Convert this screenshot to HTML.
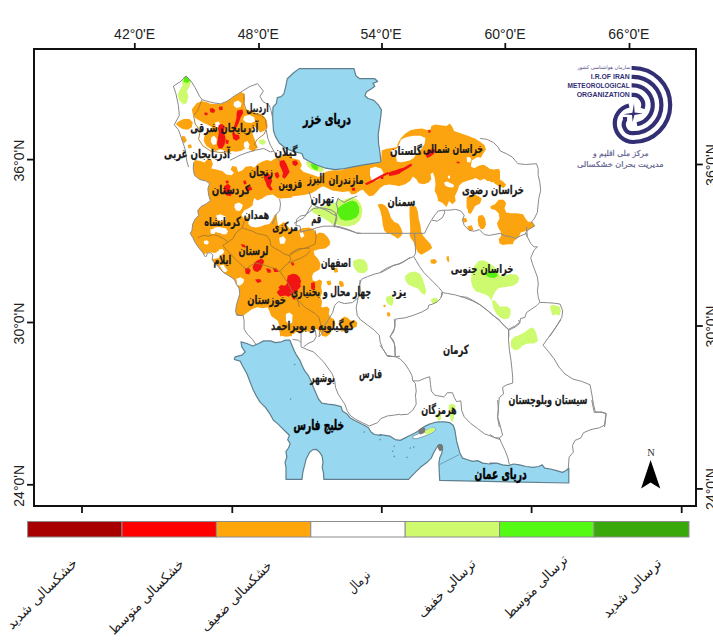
<!DOCTYPE html>
<html lang="fa">
<head>
<meta charset="utf-8">
<title>نقشه خشکسالی ایران</title>
<style>
html,body{margin:0;padding:0;background:#fff;}
body{width:713px;height:640px;overflow:hidden;position:relative;font-family:"Liberation Sans","DejaVu Sans",sans-serif;}
svg{position:absolute;left:0;top:0;display:block;}
.ax{font-family:"Liberation Sans",sans-serif;font-size:14px;fill:#222;}
.pv{font-family:"DejaVu Sans",sans-serif;font-weight:bold;fill:#1a1a1a;stroke:#1a1a1a;stroke-width:0.25px;}
.sea{font-family:"DejaVu Sans",sans-serif;font-weight:bold;fill:#000;stroke:#000;stroke-width:0.5px;}
.lg{font-family:"DejaVu Sans",sans-serif;fill:#222;}
.logo{font-family:"DejaVu Sans",sans-serif;fill:#3a3a78;}
</style>
</head>
<body>
<svg width="713" height="640" viewBox="0 0 713 640">
<rect x="0" y="0" width="713" height="640" fill="#fff"/>
<g id="fills">
<polygon points="290.0,155.0 284.4,155.0 279.4,156.7 275.2,158.4 271.0,160.9 266.8,160.1 261.7,161.8 257.5,164.3 254.2,167.7 250.8,166.0 245.7,166.8 242.4,170.2 238.2,171.9 236.5,166.8 232.3,166.0 230.6,169.4 234.0,172.7 231.4,175.2 226.4,174.4 222.2,171.0 216.3,169.4 211.2,168.5 212.9,164.3 211.2,159.3 207.9,158.4 204.5,162.6 200.3,160.9 195.2,160.1 193.6,162.6 193.2,168.5 194.4,175.2 199.5,179.5 206.2,181.1 209.6,183.7 207.9,188.7 208.7,195.4 210.4,200.5 206.2,203.9 201.1,206.4 197.8,210.6 198.6,215.6 195.2,219.0 192.7,224.1 191.9,230.8 190.2,233.3 192.7,237.5 195.2,242.6 198.6,247.6 202.8,252.7 205.3,257.0 206.2,256.8 207.4,253.1 210.4,252.6 212.9,255.1 212.1,259.4 214.1,262.7 218.0,266.1 220.5,269.5 223.9,272.8 228.1,275.3 232.3,277.9 234.8,280.4 236.5,284.6 239.0,288.0 239.8,293.9 238.2,298.9 236.5,304.8 235.6,310.7 236.5,314.9 243.2,315.7 247.4,312.4 252.5,309.0 257.5,307.3 262.6,308.2 267.6,307.3 269.3,310.7 271.0,315.7 274.3,318.3 277.7,320.8 280.2,327.5 279.4,331.7 281.9,335.9 286.1,336.8 290.0,336.3 292,336 292,155" fill="#FCA40F"/>
<polygon points="280.0,229.1 285.0,230.8 290.1,229.1 296.8,230.8 301.9,228.3 308.6,227.4 313.7,229.1 316.2,234.2 319.6,232.5 323.8,233.3 328.0,237.5 330.5,242.6 330.5,240.0 329.6,245.0 325.4,248.4 318.7,249.3 313.7,250.9 314.5,255.1 317.9,258.5 320.4,263.6 319.6,269.5 313.7,272.8 312.0,276.2 312.8,280.4 316.2,281.2 319.6,279.6 322.1,281.2 321.2,287.1 322.1,292.2 320.4,297.2 322.1,301.4 321.2,307.3 323.8,307.3 327.1,306.5 329.6,309.0 328.8,314.1 330.5,317.4 333.9,319.1 335.5,324.2 332.2,329.2 329.6,334.2 326.3,336.8 322.1,335.9 320.4,331.7 317.0,329.2 312.8,329.2 309.5,331.7 305.2,330.9 300.2,333.4 296.0,331.7 293.5,334.2 289.3,333.4 286.7,335.9 282.5,335.1 280.0,336.8 280,336.8" fill="#FCA40F"/>
<polygon points="280.0,156.7 286.7,156.7 293.5,158.4 299.4,160.1 301.9,165.1 300.2,168.5 303.6,171.9 308.6,173.6 313.7,175.2 318.7,176.9 322.1,175.2 325.4,171.9 328.8,171.0 333.9,170.2 340.6,170.2 347.3,168.5 354.1,166.8 362.5,165.1 370.9,163.8 381.0,162.6 382.7,158.4 383.5,153.4 387.7,150.0 400.0,150.0 400.0,186.2 394.4,185.3 389.4,184.5 384.3,185.3 380.1,187.9 376.8,192.1 373.4,195.4 369.2,196.3 365.8,192.9 362.5,189.6 359.1,191.2 355.7,193.8 351.5,194.6 349.0,191.2 343.1,192.1 337.2,191.2 332.2,190.4 327.1,187.9 322.9,186.2 319.6,187.9 316.2,190.4 312.0,192.9 306.9,194.6 300.2,195.4 293.5,196.3 286.7,197.1 280.0,198.0" fill="#FCA40F"/>
<polygon points="381.7,150.5 386.7,148.8 391.8,148.0 396.8,147.1 398.5,142.1 401.0,137.9 405.2,133.7 410.3,130.3 416.2,128.9 422.1,128.6 427.1,130.0 430.5,129.5 431.3,126.1 435.5,124.4 440.6,125.2 446.5,126.1 449.8,123.6 452.4,126.9 454.1,131.1 459.1,132.8 464.2,134.5 469.2,136.2 473.4,138.7 476.8,141.2 481.0,142.9 484.3,145.4 485.2,149.6 482.7,153.9 479.3,156.4 475.1,158.1 471.7,160.6 470.9,166.5 474.2,168.2 479.3,165.6 483.5,164.8 487.7,167.3 491.9,170.7 496.1,169.8 500.0,170.7 500.0,179.1 496.1,180.8 491.1,182.5 487.7,179.1 489.4,174.1 484.3,174.9 479.3,174.1 475.9,175.7 472.6,179.1 467.5,180.8 462.5,182.5 459.1,185.8 457.4,190.9 454.9,195.9 455.7,201.0 452.4,204.3 449.0,201.0 446.5,207.0 442.3,202.7 438.1,201.0 437.2,195.9 434.7,190.9 435.5,184.2 434.7,177.4 433.0,172.4 430.5,174.1 431.3,179.1 428.8,182.5 423.8,184.2 418.7,183.3 416.2,179.1 412.8,176.6 410.3,180.8 405.2,184.2 400.2,185.8 395.1,184.2 390.1,182.5 385.0,184.2 380.0,182.5" fill="#FCA40F"/>
<polygon points="193.6,107.1 196.9,102.9 202.0,101.2 206.2,102.1 210.4,103.8 215.4,104.1 220.5,104.1 225.5,102.1 230.6,98.7 235.6,95.3 241.5,92.0 244.1,93.7 244.9,98.7 244.1,104.6 244.9,108.8 249.1,110.5 254.2,112.2 260.9,113.9 264.2,116.4 266.8,120.6 267.6,126.5 264.2,130.7 260.0,132.4 257.5,129.0 254.2,126.5 251.6,130.7 253.3,135.7 255.8,142.5 257.5,147.5 253.3,151.7 249.1,149.2 244.9,148.4 240.7,150.9 235.6,151.7 231.4,150.9 228.9,153.4 225.5,150.9 220.5,149.2 215.4,150.9 211.2,149.2 206.2,145.8 203.7,140.8 204.5,135.7 208.7,132.4 212.1,127.3 207.9,124.8 203.7,123.1 199.5,120.6 195.2,118.1 192.7,113.9 191.9,109.6" fill="#FCA40F"/>
<polygon points="178.4,121.4 183.5,118.9 189.4,118.9 192.7,122.3 191.9,127.3 187.7,129.8 182.6,129.0 178.4,126.5 175.9,124.0" fill="#FCA40F"/>
<polygon points="181.8,135.7 185.1,136.6 186.8,140.8 184.3,143.3 181.8,140.8" fill="#FCA40F"/>
<polygon points="187.7,145.0 191.0,144.2 191.9,147.5 188.5,148.4" fill="#FCA40F"/>
<polygon points="339.7,280.4 343.1,282.1 344.0,286.3 340.6,287.1 338.9,283.8" fill="#FCA40F"/>
<polygon points="326.3,281.2 330.5,280.4 331.3,284.6 328.0,285.4" fill="#FCA40F"/>
<polygon points="333.0,268.6 337.2,267.8 338.1,272.0 334.7,272.8" fill="#FCA40F"/>
<polygon points="340.6,319.1 344.8,316.6 348.2,318.3 350.7,320.8 354.1,319.9 357.4,322.5 356.6,326.7 352.4,328.4 348.2,327.5 344.8,330.9 341.4,331.7 339.7,328.4 341.4,324.2" fill="#FCA40F"/>
<polygon points="387.7,312.4 390.2,313.2 390.2,316.6 387.7,315.7" fill="#FCA40F"/>
<polygon points="286.7,217.3 290.1,216.5 293.5,219.0 292.1,222.4 288.1,222.0" fill="#FCA40F"/>
<polygon points="470.0,136.7 475.0,138.4 480.1,141.8 484.3,145.1 486.0,149.4 483.5,152.7 480.9,157.8 476.7,156.9 473.4,159.5 470.0,160.3 463.3,155.2 463.3,140.1" fill="#FCA40F"/>
<polygon points="470.0,169.6 475.0,170.4 479.3,166.2 484.3,165.3 488.5,168.7 493.6,169.6 499.5,168.7 498.6,172.9 494.4,175.4 498.6,178.8 502.8,181.3 506.2,184.7 503.7,188.1 499.5,186.4 495.2,183.9 491.9,180.5 487.7,181.3 484.3,178.8 480.1,180.5 475.9,178.0 471.7,179.6 470.0,178.8 465.0,177.1 465.0,170.4" fill="#FCA40F"/>
<polygon points="470.0,195.6 475.0,194.8 479.3,196.5 477.6,201.5 475.0,204.9 472.5,210.8 470.0,214.2 466.6,207.4 466.6,197.3" fill="#FCA40F"/>
<polygon points="490.2,206.6 495.2,204.1 498.6,199.8 503.7,199.8 506.2,203.2 504.5,208.3 506.2,212.5 511.2,213.3 517.1,213.3 523.0,214.2 525.5,218.4 528.1,221.7 532.3,221.7 534.8,225.9 529.7,229.3 525.5,231.0 520.5,232.7 518.8,237.0 502.8,237.0 502.0,232.7 498.6,228.5 496.9,223.4 499.5,218.4 498.6,213.3 495.2,209.9 491.0,209.1" fill="#FCA40F"/>
<polygon points="478.4,215.8 482.6,215.0 485.1,218.4 486.0,224.2 484.3,228.5 480.9,229.3 478.4,225.1 477.6,220.0" fill="#FCA40F"/>
<polygon points="377.6,204.6 381.7,203.8 385.0,205.5 387.6,208.5 389.3,212.7 390.9,217.8 394.3,222.0 398.5,223.7 401.0,227.9 402.7,232.9 401.0,236.3 397.7,238.8 394.3,236.3 390.1,234.1 387.7,234.1 384.4,230.7 382.7,224.8 381.9,217.3 380.2,210.5" fill="#FCA40F"/>
<polygon points="409.5,206.8 412.8,205.5 416.2,206.8 417.9,211.9 418.7,218.6 420.4,225.3 421.2,231.2 422.9,235.4 426.3,239.6 430.5,243.9 432.2,248.1 428.8,250.6 424.6,253.1 421.2,254.8 417.9,252.3 415.3,247.2 413.7,242.2 411.1,238.8 409.5,235.4 410.3,230.4 410.0,223.7 409.5,215.2" fill="#FCA40F"/>
<polygon points="430.5,259.8 434.7,259.0 437.2,261.5 434.7,264.1 430.8,263.2" fill="#FCA40F"/>
<polygon points="446.5,256.5 448.7,256.0 449.3,260.7 448.2,262.4 446.8,259.8" fill="#FCA40F"/>
<polygon points="467.5,196.7 471.7,195.0 477.6,195.9 481.8,198.4 480.1,203.5 475.1,206.0 472.6,210.2 470.9,213.6 467.9,212.7 468.4,206.8 466.7,201.8" fill="#FCA40F"/>
<polygon points="462.5,218.6 465.8,217.8 467.5,221.1 465.0,222.8 462.5,221.1" fill="#FCA40F"/>
<polygon points="467.5,226.2 471.7,225.3 473.4,229.6 470.9,231.2 467.9,229.6" fill="#FCA40F"/>
<polygon points="500.4,228.3 518.9,228.3 519.7,235.0 517.2,238.4 513.9,240.9 513.0,244.3 508.0,244.3 502.9,245.1 499.6,243.5 498.7,239.3 501.2,235.9" fill="#FCA40F"/>
<polygon points="383.4,305.1 385.4,304.8 385.7,306.8 383.7,307.2" fill="#FCA40F"/>
<polygon points="386.7,312.7 389.3,312.2 390.1,316.1 387.6,316.6" fill="#FCA40F"/>
<polygon points="234.0,102.1 238.2,100.4 241.5,102.9 240.7,107.1 236.5,108.0 233.6,105.4" fill="#fff"/>
<polygon points="244.1,116.4 249.1,114.7 254.2,117.2 255.0,121.4 250.8,123.1 245.7,122.3 243.2,119.7" fill="#fff"/>
<polygon points="211.2,137.4 214.1,135.7 216.8,139.1 216.3,144.2 212.9,145.0 210.9,141.6" fill="#fff"/>
<polygon points="244.1,142.5 247.4,141.1 249.4,144.2 248.8,148.4 245.4,148.9 243.7,145.8" fill="#fff"/>
<polygon points="215.1,122.6 218.8,121.4 220.5,124.8 218.8,127.7 215.8,127.0" fill="#fff"/>
<polygon points="254.2,198.0 257.5,200.5 261.7,198.8 266.8,195.4 272.7,194.6 277.7,198.0 281.1,202.2 280.2,208.1 277.7,212.3 274.3,215.6 271.8,220.7 269.3,224.1 264.2,224.9 260.9,226.6 255.8,227.4 250.8,226.6 248.3,224.1 249.1,219.0 246.6,216.5 244.1,219.0 241.5,214.8 244.1,210.6 249.1,208.1 252.5,205.5 253.3,201.3" fill="#fff"/>
<polygon points="234.8,203.9 239.0,202.5 242.7,204.7 242.0,208.1 239.8,210.9 236.0,210.6 234.5,207.2" fill="#fff"/>
<polygon points="216.3,215.6 220.5,214.3 225.5,216.5 225.9,219.8 221.3,221.0 217.1,219.8" fill="#fff"/>
<polygon points="210.4,229.4 214.1,228.8 215.8,231.6 214.1,234.2 210.7,233.6" fill="#fff"/>
<polygon points="220.5,229.4 224.7,228.8 227.6,231.1 226.4,234.2 221.8,234.2" fill="#fff"/>
<polygon points="203.7,240.9 207.0,240.2 209.0,242.6 207.4,244.6 204.2,243.9" fill="#fff"/>
<polygon points="218.8,249.6 222.5,249.0 224.2,251.8 222.5,254.3 219.1,253.5" fill="#fff"/>
<polygon points="236.5,278.7 240.7,277.4 244.1,279.6 243.2,282.9 239.8,285.8 237.0,284.6" fill="#fff"/>
<polygon points="217.1,251.8 220.5,251.1 222.5,253.1 220.2,254.8 217.5,254.1" fill="#fff"/>
<polygon points="223.0,268.9 225.9,268.3 227.6,270.6 225.5,272.3 223.2,271.6" fill="#fff"/>
<polygon points="285.9,314.1 289.3,312.4 292.6,314.9 292.1,322.5 288.4,324.2 285.9,320.8" fill="#fff"/>
<polygon points="370.0,168.5 375.1,166.8 381.0,168.5 383.5,172.7 381.0,177.8 375.9,181.1 371.7,180.3 370.0,175.2" fill="#fff"/>
<polygon points="401.0,139.6 406.9,137.0 413.7,135.7 420.4,135.7 425.4,137.9 424.6,143.8 422.1,148.0 419.6,150.5 416.2,153.9 413.7,158.1 409.5,160.6 405.2,161.4 401.0,162.3 396.8,161.4 396.0,155.5 391.8,153.9 390.9,150.5 396.8,148.8 399.4,143.8" fill="#fff"/>
<polygon points="466.7,157.2 470.0,156.9 471.2,159.7 470.0,162.6 467.0,161.9" fill="#fff"/>
<polygon points="444.0,182.5 447.3,181.6 450.7,183.3 454.1,185.0 453.2,187.5 449.0,187.2 445.3,185.8" fill="#fff"/>
<polygon points="447.8,175.7 449.8,175.4 450.2,178.3 448.2,178.4" fill="#fff"/>
<polygon points="276,198.6 281,198.4 300,197 300,228 290,229 284,222 278,226 276,212" fill="#fff"/>
<polygon points="213.6,227.8 218.6,226.9 226.2,228.6 227.9,232.0 223.7,233.7 217.8,232.8 214.4,231.1" fill="#fff"/>
<polygon points="204.3,253.9 209.4,252.2 215.2,253.0 219.5,250.5 222.0,253.9 218.6,258.1 213.6,258.9 208.5,258.1 205.1,257.2" fill="#fff"/>
<polygon points="219.5,265.6 223.7,264.8 226.2,269.0 222.8,270.7" fill="#fff"/>
<polygon points="236.3,279.1 240.5,277.4 243.9,279.9 242.2,283.3 238.0,283.3" fill="#fff"/>
<polygon points="279.2,237.9 283.4,236.2 285.9,239.6 284.2,243.8 280.0,243.8" fill="#fff"/>
<polygon points="299.4,232.8 302.8,232.0 304.4,236.2 301.1,237.9" fill="#fff"/>
<polygon points="184.3,76.8 188.5,77.7 191.0,81.9 189.4,86.9 186.8,91.1 188.5,96.2 186.8,102.9 183.5,104.6 179.3,100.4 177.6,94.5 180.1,89.5 182.6,85.2 181.8,80.2" fill="#CDFA6E"/>
<polygon points="386.0,297.2 390.2,295.5 393.6,298.1 392.8,304.0 389.4,304.8 386.9,301.4" fill="#CDFA6E"/>
<polygon points="310.3,208.9 313.7,207.2 319.6,208.1 325.4,205.5 330.5,203.9 336.4,202.2 337.2,198.0 341.4,200.5 346.5,198.8 352.4,197.1 357.4,199.6 360.8,203.9 362.5,209.7 361.6,216.5 359.1,221.5 354.1,224.9 347.3,226.6 340.6,225.7 336.4,224.1 333.9,225.7 328.8,221.5 323.8,218.2 318.7,215.6 313.7,213.1" fill="#CDFA6E"/>
<polygon points="436.4,414.3 438.9,412.6 441.4,415.1 440.6,419.4 438.9,421.0 437.2,418.5" fill="#CDFA6E"/>
<polygon points="449.0,405.0 452.4,403.4 455.7,405.9 454.9,411.8 454.1,416.8 452.4,421.9 450.7,420.2 449.8,414.3 448.7,409.3" fill="#CDFA6E"/>
<polygon points="405.2,275.8 409.5,272.5 415.3,271.6 420.4,274.2 422.9,279.2 424.6,285.1 426.3,291.0 424.6,295.2 421.2,292.7 417.9,288.5 412.8,286.8 407.8,284.2 405.2,280.0" fill="#CDFA6E"/>
<polygon points="471.8,272.1 474.3,266.2 478.5,261.1 483.6,260.3 488.6,262.8 493.7,266.2 497.9,271.2 500.4,276.3 504.6,275.4 510.5,274.1 516.4,274.6 519.2,278.0 518.1,282.2 513.9,285.5 508.8,286.4 503.8,287.2 498.7,288.1 495.3,291.4 492.8,296.5 491.1,300.7 489.5,297.3 486.1,294.8 481.0,293.1 476.0,291.4 472.6,287.2 470.9,280.5" fill="#CDFA6E"/>
<polygon points="494.5,304.1 496.2,307.4 501.2,306.6 507.1,306.6 510.5,309.1 510.5,314.2 508.8,318.4 503.8,319.2 499.6,316.7 496.2,312.5 493.7,307.4" fill="#CDFA6E"/>
<polygon points="550.0,305.7 554.2,304.9 559.3,306.6 561.0,310.8 559.3,315.8 555.9,314.2 552.6,315.8 550.9,310.8" fill="#CDFA6E"/>
<polygon points="511.0,340.2 514.4,336.8 519.5,335.1 525.3,331.8 529.6,328.4 532.9,327.6 535.4,330.9 537.1,336.0 538.0,341.0 533.8,343.6 527.9,343.6 522.8,345.2 518.6,349.5 514.4,350.3 511.0,346.9" fill="#CDFA6E"/>
<polygon points="385.9,298.4 389.3,295.9 392.6,297.6 393.5,302.6 391.8,306.0 388.4,304.3 386.4,301.8" fill="#CDFA6E"/>
<polygon points="430.5,300.1 434.7,297.6 438.1,299.3 437.2,302.6 433.0,304.3" fill="#CDFA6E"/>
<polygon points="491.9,300.9 494.4,300.1 500.0,306.8 500.0,316.9 496.1,313.6 493.6,308.5 492.4,304.3" fill="#CDFA6E"/>
<polygon points="353.1,260.7 359.0,258.7 364.1,259.8 367.4,264.1 367.8,269.9 364.1,273.3 358.2,272.8 354.8,269.1 353.1,264.9" fill="#CDFA6E"/>
<polygon points="305.7,162.0 310.8,161.1 315.8,163.7 320.9,166.2 324.2,169.6 321.7,172.1 316.7,171.2 311.6,169.6 307.4,166.2" fill="#CDFA6E"/>
<polygon points="258.6,140.1 263.7,139.3 266.2,142.6 262.8,145.1 259.5,143.5" fill="#CDFA6E"/>
<polygon points="184.3,76.8 186.3,75.7 190.5,80.5 187.7,83.1 183.5,81.9" fill="#55F010"/>
<polygon points="338.1,208.1 342.3,204.7 347.3,202.2 352.4,200.5 356.6,202.2 359.1,207.2 359.1,213.1 356.6,217.3 351.5,219.8 345.6,220.7 340.6,219.0 338.1,214.8" fill="#55F010"/>
<polygon points="486.1,272.9 491.1,271.2 496.2,271.7 497.9,275.4 494.5,278.0 489.5,277.5 486.6,275.8" fill="#55F010"/>
<polygon points="310.8,163.7 315.0,164.5 318.4,167.0 317.5,170.4 314.2,169.6 311.6,167.0" fill="#55F010"/>
<polygon points="218.8,124.8 222.2,124.0 224.7,126.5 223.9,132.4 225.5,137.4 224.7,144.2 222.2,148.4 218.8,148.4 217.1,144.2 218.0,137.4 218.8,132.4 218.0,128.2" fill="#F21414"/>
<polygon points="237.3,110.5 242.4,109.6 243.2,113.0 240.7,117.2 239.0,122.3 236.5,127.3 234.0,130.7 234.8,134.1 239.0,134.9 239.8,138.3 236.5,140.8 233.1,139.1 232.3,134.1 233.1,129.0 234.8,124.0 236.5,118.1 236.5,113.9" fill="#F21414"/>
<polygon points="209.6,108.8 212.9,108.0 215.4,110.5 213.8,113.0 210.4,112.2" fill="#F21414"/>
<polygon points="218.8,107.1 222.2,106.3 223.0,109.6 219.6,110.5" fill="#F21414"/>
<polygon points="204.5,112.2 207.9,113.0 207.0,115.5 204.5,114.7" fill="#F21414"/>
<polygon points="225.5,139.1 228.9,140.8 228.1,144.2 225.5,143.3" fill="#F21414"/>
<polygon points="223.9,186.2 228.1,183.7 230.6,186.2 229.7,190.4 232.3,192.9 230.6,196.3 226.4,195.4 223.9,192.1" fill="#F21414"/>
<polygon points="243.2,181.1 245.7,180.3 246.6,183.7 244.1,184.5" fill="#F21414"/>
<polygon points="225.5,181.1 228.1,180.3 228.9,182.8 226.4,183.7" fill="#F21414"/>
<polygon points="246.6,187.9 250.8,186.2 252.5,189.6 248.3,191.2" fill="#F21414"/>
<polygon points="240.7,244.2 244.9,245.1 245.7,247.6 242.4,246.8" fill="#F21414"/>
<polygon points="254.2,262.7 257.5,260.2 261.7,258.5 264.2,261.0 262.6,265.2 260.9,269.5 257.5,272.0 254.2,271.1 252.5,267.8" fill="#F21414"/>
<polygon points="244.9,268.6 248.3,267.8 250.8,270.3 249.1,274.5 245.7,273.7" fill="#F21414"/>
<polygon points="255.0,279.6 260.0,279.0 261.7,281.7 257.5,282.9" fill="#F21414"/>
<polygon points="265.9,268.6 269.3,269.5 271.0,272.8 267.6,272.8" fill="#F21414"/>
<polygon points="272.7,267.8 276.9,268.6 278.6,272.0 274.3,272.0" fill="#F21414"/>
<polygon points="241.5,244.2 244.9,245.0 245.7,247.6 242.4,246.7" fill="#F21414"/>
<polygon points="288.4,276.2 292.6,273.7 296.8,274.5 300.2,277.9 299.4,282.9 301.0,286.3 298.5,288.8 296.0,288.0 294.3,290.5 290.1,289.6 287.6,285.4 286.7,280.4" fill="#F21414"/>
<polygon points="311.1,282.9 314.5,282.1 315.3,287.1 313.7,290.5 311.1,288.8" fill="#F21414"/>
<polygon points="280.0,288.8 284.2,288.0 287.6,292.2 285.0,295.5 280.0,296.4 276.6,292.2" fill="#F21414"/>
<polygon points="290.9,262.7 293.5,262.2 294.3,265.2 291.8,265.6" fill="#F21414"/>
<polygon points="292.6,295.5 296.0,296.4 295.1,299.7 292.6,298.9" fill="#F21414"/>
<polygon points="387.7,172.7 392.8,171.0 400.0,169.4 400.0,173.6 394.4,175.2 389.4,176.1" fill="#F21414"/>
<polygon points="351.5,187.9 354.9,187.4 355.4,190.4 352.4,190.7" fill="#F21414"/>
<polygon points="388.4,173.7 393.5,171.4 398.5,169.0 403.6,167.7 407.8,165.3 411.1,163.6 412.3,165.3 408.9,167.7 404.9,170.0 400.5,172.7 396.0,174.1 390.9,175.2" fill="#F21414"/>
<polygon points="425.4,153.9 428.8,150.5 433.0,148.8 435.5,150.5 433.9,153.9 430.5,156.4 427.1,158.1" fill="#F21414"/>
<polygon points="428.0,130.3 430.5,130.0 430.5,132.8 428.5,132.8" fill="#F21414"/>
<polygon points="456.6,161.4 459.9,161.9 459.4,163.6 456.6,163.1" fill="#F21414"/>
<polygon points="380.8,176.6 383.4,176.1 383.4,179.1 380.8,179.1" fill="#F21414"/>
<polygon points="287.6,275.7 292.7,274.1 297.7,275.7 301.1,280.8 299.4,287.5 296.9,291.7 292.7,294.2 288.5,296.8 284.2,295.1 281.7,290.9 278.4,287.5 280.9,285.0 285.1,285.8 287.6,282.5" fill="#F21414"/>
<polygon points="266.6,268.2 269.9,269.0 271.6,271.5 268.3,271.5" fill="#F21414"/>
<polygon points="365.1,183.2 372.7,179.7 380.3,175.6 387.9,172.1 388.4,174.1 380.3,178.1 372.7,182.2 366.4,185.2" fill="#F21414"/>
<polygon points="263.7,174.6 267.9,172.9 271.2,176.3 272.1,181.3 270.4,185.5 272.9,189.7 270.4,190.6 267.0,186.4 265.3,181.3 263.7,178.0" fill="#F21414"/>
<polygon points="279.6,161.1 283.9,160.0 286.4,163.7 288.1,167.9 289.7,172.1 287.2,175.4 284.7,178.8 282.2,177.1 283.0,172.9 281.3,168.7 279.6,165.3" fill="#F21414"/>
<polygon points="292.3,161.1 296.5,160.3 298.2,163.7 295.6,166.2 292.6,164.5" fill="#F21414"/>
<polygon points="274.6,172.9 278.0,172.1 279.6,176.3 277.1,178.8 275.1,176.3" fill="#F21414"/>
</g>
<g id="seas">
<polygon points="299.1,68.6 293.4,73.0 287.3,78.7 285.8,86.2 283.9,93.8 281.1,96.7 277.3,97.6 276.4,103.3 273.0,107.1 272.6,117.5 273.5,130.7 275.4,136.4 279.2,143.0 284.9,147.8 293.4,151.6 301.9,153.5 303.8,158.2 308.5,161.0 316.1,164.8 325.6,168.2 335.1,169.6 344.5,168.6 354.0,166.7 363.5,164.8 372.9,163.3 380.9,162.0 380.1,153.5 378.6,144.0 378.2,134.5 379.6,125.1 380.9,115.6 381.4,109.9 378.6,105.2 373.9,100.4 368.2,98.5 365.0,95.7 366.3,91.9 371.0,89.1 374.8,86.2 372.9,83.4 377.7,81.5 374.8,78.7 367.2,78.7 359.7,78.7 355.9,75.8 354.0,68.6" fill="#97D8F0" stroke="#5f7f8e" stroke-width="1.2" stroke-linejoin="round"/>
<polygon points="241.0,341.8 241.8,346.8 245.2,351.9 241.8,355.2 235.1,356.9 234.3,359.5 240.1,361.1 242.7,366.2 246.9,373.8 250.2,382.2 252.8,388.9 256.1,395.6 260.3,402.4 265.4,407.4 269.6,413.3 273.4,420.2 277.6,423.6 281.8,427.8 286.0,432.0 289.4,435.3 287.7,439.6 290.2,443.8 288.5,448.0 286.0,451.3 286.8,457.2 285.1,462.3 286.0,467.3 286.0,474.1 286.0,479.4 302.0,479.4 302.8,472.4 304.5,465.6 306.2,458.9 309.6,452.2 312.9,449.6 316.3,449.3 319.6,452.2 322.2,456.4 323.0,462.3 322.2,467.3 323.5,473.2 323.9,479.4 408.6,479.4 414.5,473.2 420.4,467.3 427.1,462.3 431.3,458.1 433.9,452.2 436.4,448.0 438.9,444.6 441.4,444.6 442.6,448.0 441.9,453.0 439.7,458.1 438.9,463.1 439.2,470.7 439.7,480.4 568.8,483.0 568.8,468.2 565.7,470.7 562.4,472.4 556.5,470.7 550.6,469.0 544.7,468.2 542.2,464.8 538.8,466.5 532.9,467.3 526.2,466.5 519.5,464.8 513.6,464.0 508.5,465.6 502.6,464.8 496.7,463.1 490.0,463.1 496.1,463.1 489.4,464.0 482.7,463.1 477.6,460.6 472.6,461.4 467.5,459.7 462.5,458.1 459.9,453.0 458.3,447.1 456.6,441.2 455.7,435.3 454.9,430.3 453.2,425.2 449.8,422.7 444.8,421.9 438.9,421.9 433.9,422.7 428.8,424.4 423.8,426.9 419.6,430.3 415.3,432.8 410.3,435.3 405.2,437.9 400.2,440.4 395.1,439.6 390.1,436.2 385.0,435.3 380.0,434.5 381.1,435.3 374.3,434.5 371.0,432.0 368.5,427.8 364.2,425.2 359.2,422.7 354.2,420.2 349.9,417.7 347.4,414.3 342.4,410.9 341.1,406.6 334.4,404.9 327.7,404.1 321.8,403.2 318.4,399.0 315.9,393.1 313.4,387.2 310.8,380.5 308.3,375.4 304.9,371.2 302.4,366.2 299.9,360.3 296.5,355.2 294.0,350.2 291.5,344.3 289.8,340.1 285.6,340.1 281.4,341.8 275.5,342.6 270.4,340.9 263.7,340.9 258.7,343.5 252.8,346.0 246.9,343.5" fill="#97D8F0" stroke="#5f7f8e" stroke-width="1.2" stroke-linejoin="round"/>
<polygon points="412.8,436.2 418.7,433.7 424.6,431.1 430.5,428.6 434.7,427.8 435.5,430.3 432.2,432.8 427.1,435.3 422.1,437.0 417.0,438.7 412.8,438.7" fill="#fff" stroke="#6f8f9f" stroke-width="0.8" stroke-linejoin="round"/>
<polygon points="424.6,431.1 430.5,428.3 434.7,427.8 434.7,430.6 429.6,433.7 425.4,434.5" fill="#CDFA6E"/>
<polyline points="439.2,464.8 459.1,454.7" fill="none" stroke="#5b86a8" stroke-width="0.7" stroke-linejoin="round"/>
<circle cx="394.3" cy="446.3" r="0.8" fill="#5f8aa6"/>
<circle cx="392.6" cy="451.3" r="0.8" fill="#5f8aa6"/>
<circle cx="394.3" cy="456.4" r="0.8" fill="#5f8aa6"/>
<circle cx="406.9" cy="457.2" r="0.8" fill="#5f8aa6"/>
<circle cx="410.3" cy="448.0" r="0.8" fill="#5f8aa6"/>
<circle cx="413.7" cy="447.1" r="0.8" fill="#5f8aa6"/>
<circle cx="294.8" cy="364.5" r="0.8" fill="#5f8aa6"/>
<circle cx="290.6" cy="399.0" r="0.8" fill="#5f8aa6"/>
<circle cx="380.2" cy="439.6" r="0.8" fill="#5f8aa6"/>
<circle cx="364.2" cy="432.0" r="0.8" fill="#5f8aa6"/>
</g>
<g id="borders">
<polyline points="197.6,237.9 203.5,235.3 208.5,236.2 213.6,234.5 218.6,236.2 223.7,238.7 227.9,242.1 222.8,245.4 226.2,249.6 230.4,253.9 234.6,258.1 238.8,262.3 243.0,266.5 246.4,269.0 250.6,265.6 255.6,263.1 260.7,264.0 265.7,265.6 270.8,267.3 275.8,269.0 280.0,271.5 283.4,276.6 287.6,282.5 291.0,289.2 294.3,294.2 297.7,301.0 299.4,307.0" fill="none" stroke="#a9782a" stroke-width="0.9" stroke-linejoin="round"/>
<polyline points="227.9,242.1 232.9,238.7 235.4,233.7 238.8,230.3 242.2,227.8 247.2,229.5 252.3,231.1 257.3,233.7 262.4,234.5 267.4,236.2 269.9,240.4 270.8,245.4 274.2,248.0 279.2,250.5 284.2,253.9 289.3,255.5 291.0,258.9 288.5,263.1 284.2,266.5 280.0,271.5" fill="none" stroke="#a9782a" stroke-width="0.9" stroke-linejoin="round"/>
<polyline points="289.3,255.5 294.3,252.2 301.1,248.8 310.0,248.0" fill="none" stroke="#a9782a" stroke-width="0.9" stroke-linejoin="round"/>
<polyline points="242.2,227.8 243.9,221.9 248.1,217.7 249.7,213.5" fill="none" stroke="#a9782a" stroke-width="0.9" stroke-linejoin="round"/>
<polyline points="288.5,263.1 294.3,260.6 301.1,258.1 307.8,253.9 310.0,250.5" fill="none" stroke="#a9782a" stroke-width="0.9" stroke-linejoin="round"/>
<polyline points="315.2,230.4 316.1,237.1 315.2,243.9 310.2,246.4 305.1,248.1 298.4,248.9 293.4,251.4 290.0,254.0" fill="none" stroke="#a9782a" stroke-width="0.9" stroke-linejoin="round"/>
<polyline points="202.0,99.6 197.8,110.5 193.6,115.5 195.2,124.0 200.3,130.7 198.6,139.1 202.8,145.8 210.4,150.9 220.5,152.6 228.9,151.7 231.4,154.2" fill="none" stroke="#a9782a" stroke-width="0.9" stroke-linejoin="round"/>
<polyline points="244.1,93.7 244.1,103.8 246.6,110.5 254.2,113.9 260.9,115.5 265.1,118.9 266.8,127.3 264.2,134.1 257.5,139.1 254.2,144.2 257.5,147.5" fill="none" stroke="#a9782a" stroke-width="0.9" stroke-linejoin="round"/>
<polyline points="289.5,291.8 299.3,301.6 305.2,307.5 315.0,313.4 318.9,317.3 320.9,325.2 318.9,336.9" fill="none" stroke="#a9782a" stroke-width="0.9" stroke-linejoin="round"/>
<polyline points="186.0,76.0 180.1,81.9 173.4,86.1 175.9,93.7 178.4,105.4 179.3,115.5 174.2,124.8 178.4,129.8 181.8,139.1 185.1,149.2 186.8,161.0 188.5,167.0" fill="none" stroke="#8a8a8a" stroke-width="1" stroke-linejoin="round"/>
<polyline points="186.0,76.0 191.0,81.0 195.2,87.8 199.5,96.2 202.0,99.6 207.0,101.2 213.8,102.9 220.5,103.8 227.2,101.2 234.0,96.2 242.4,91.1 249.1,86.9 257.5,83.6 263.4,91.1 260.0,96.2 262.6,101.2 269.3,105.4 271.0,110.5 272.7,118.1" fill="none" stroke="#8a8a8a" stroke-width="1" stroke-linejoin="round"/>
<polyline points="236.5,314.9 243.2,315.7 244.1,320.8 244.1,329.2 247.4,334.2 252.5,339.3 255.8,344.3" fill="none" stroke="#8a8a8a" stroke-width="1" stroke-linejoin="round"/>
<polyline points="480.1,138.4 486.8,139.3 493.6,142.6 497.8,146.8 500.3,151.0 506.2,153.6 512.1,156.9 518.0,163.7 525.5,164.5 536.5,163.7 538.2,168.7 538.2,175.4 539.8,182.2 540.7,190.6 539.0,197.3 538.2,204.1 537.3,212.5 534.0,219.2 531.4,221.7 534.8,225.9 528.9,229.3 525.5,232.7 527.2,237.0" fill="none" stroke="#8a8a8a" stroke-width="1" stroke-linejoin="round"/>
<polyline points="568.3,468.2 569.1,457.2 573.3,452.2 572.5,445.4 575.0,440.4 580.9,437.9 583.4,432.8 591.0,429.5 599.4,427.8 604.4,425.2 606.1,413.5 601.1,411.8 594.3,412.6 592.7,405.0 591.8,400.0" fill="none" stroke="#8a8a8a" stroke-width="1" stroke-linejoin="round"/>
<polyline points="497.6,400.0 498.4,410.1 497.6,416.8 500.1,425.2 502.6,435.3 499.3,437.9 501.8,443.8 505.1,450.5 507.7,457.2 509.4,464.8" fill="none" stroke="#8a8a8a" stroke-width="1" stroke-linejoin="round"/>
<polyline points="490.0,434.5 495.0,437.9 499.3,437.9" fill="none" stroke="#8a8a8a" stroke-width="1" stroke-linejoin="round"/>
<polyline points="333.9,225.7 338.9,226.6 347.3,229.1 355.7,232.5 356.4,233.3 424.6,233.3 428.0,226.2 431.3,220.3 434.7,215.2 438.1,211.0 443.1,210.2 449.0,210.2 455.7,209.4 460.8,211.0 464.2,215.2 462.5,220.3 464.2,225.3 469.2,230.4 474.2,231.2 479.3,229.6 484.3,234.6 489.4,235.4 500.0,233.4" fill="none" stroke="#8a8a8a" stroke-width="1" stroke-linejoin="round"/>
<polyline points="432.2,220.3 437.2,221.1 442.3,217.8 444.8,212.7 444.0,210.2" fill="none" stroke="#8a8a8a" stroke-width="1" stroke-linejoin="round"/>
<polyline points="414.5,233.3 415.0,240.5 415.3,247.2 415.7,253.1 413.7,256.5" fill="none" stroke="#8a8a8a" stroke-width="1" stroke-linejoin="round"/>
<polyline points="380.0,272.5 385.0,269.1 390.1,266.6 396.0,264.9 401.9,262.4 407.8,259.0 413.7,256.5 416.2,260.7 419.6,266.6 423.8,272.5 428.8,277.5 433.9,282.6 438.9,287.6 442.3,291.8 441.4,297.0" fill="none" stroke="#8a8a8a" stroke-width="1" stroke-linejoin="round"/>
<polyline points="526.5,226.6 527.3,236.7 530.7,243.5 534.1,246.8 537.4,246.8 534.1,250.2 530.7,257.8 532.4,263.7 534.9,270.4 537.4,277.1 538.3,283.9 537.4,290.6 538.3,297.3 539.9,302.4 547.5,302.7 554.2,303.2 560.1,304.1 562.7,310.8 561.8,317.5 557.6,324.2 553.4,331.0 549.2,337.0" fill="none" stroke="#8a8a8a" stroke-width="1" stroke-linejoin="round"/>
<polyline points="500.1,233.4 505.4,235.9 510.5,236.7 515.5,238.4 520.6,235.9 526.5,233.4" fill="none" stroke="#8a8a8a" stroke-width="1" stroke-linejoin="round"/>
<polyline points="460.0,296.5 466.7,297.3 473.5,300.7 480.2,304.9 486.9,309.9 492.8,315.0 498.7,320.0 503.8,325.1 508.8,330.1 508.8,337.0" fill="none" stroke="#8a8a8a" stroke-width="1" stroke-linejoin="round"/>
<polyline points="508.8,330.1 515.5,326.8 519.7,323.4 520.6,318.4 524.8,317.5 526.5,312.5 531.5,309.1 536.6,305.7 539.9,302.4" fill="none" stroke="#8a8a8a" stroke-width="1" stroke-linejoin="round"/>
<polyline points="560.7,320.0 555.6,327.6 548.9,336.8 543.0,345.2 548.1,351.1 554.0,358.7 559.0,367.1 564.9,373.9 572.5,378.9 581.7,381.4 590.1,384.8 591.8,394.1 593.5,404.2 595.2,411.7 601.9,412.6 606.1,413.4 605.3,422.7 604.4,427.0" fill="none" stroke="#8a8a8a" stroke-width="1" stroke-linejoin="round"/>
<polyline points="508.5,329.3 508.5,340.2 509.4,350.3 511.0,360.4 511.9,368.8 512.7,377.2 512.7,383.1 506.8,384.8 502.6,387.3 503.5,394.1 499.3,397.4 498.4,407.5 497.6,417.6 499.3,427.0" fill="none" stroke="#8a8a8a" stroke-width="1" stroke-linejoin="round"/>
<polyline points="499.3,320.0 503.5,325.0 508.5,329.3 515.2,325.9 519.5,322.5 518.6,320.0" fill="none" stroke="#8a8a8a" stroke-width="1" stroke-linejoin="round"/>
<polyline points="441.4,297.1 442.3,292.5 447.3,293.4 455.7,295.0 464.2,297.6 472.6,300.9 479.3,304.3 486.0,309.4 492.8,315.2 500.0,320.3" fill="none" stroke="#8a8a8a" stroke-width="1" stroke-linejoin="round"/>
<polyline points="442.3,292.5 440.6,298.4 437.2,301.8 432.2,304.3 428.8,305.1 428.0,308.5 422.1,311.9 413.7,315.2 405.2,317.8 398.5,318.6 394.3,319.5 395.1,326.2 393.5,332.1 390.1,336.3 393.5,340.5 395.1,347.2 395.1,356.5" fill="none" stroke="#8a8a8a" stroke-width="1" stroke-linejoin="round"/>
<polyline points="380.0,345.5 383.4,349.7 387.6,356.5 395.1,356.5 400.2,359.0 405.2,364.1 409.5,370.8 412.0,375.8 412.8,380.9 415.3,383.4 416.2,391.0 415.3,397.0" fill="none" stroke="#8a8a8a" stroke-width="1" stroke-linejoin="round"/>
<polyline points="412.8,380.9 418.7,380.9 424.6,378.4 429.6,376.7 430.5,384.2 431.3,391.0 434.7,395.2 438.9,396.0 444.8,397.0" fill="none" stroke="#8a8a8a" stroke-width="1" stroke-linejoin="round"/>
<polyline points="444.8,396.0 447.3,392.7 452.4,392.7 454.1,397.0" fill="none" stroke="#8a8a8a" stroke-width="1" stroke-linejoin="round"/>
<polyline points="301.0,346.9 306.9,349.5 313.7,352.0 318.7,357.0 323.8,362.1 328.0,368.0 332.2,373.9 334.7,380.6 335.5,387.3 338.1,394.1 341.4,399.1 344.8,404.2 347.3,410.9 350.7,415.9 355.7,419.3 362.5,422.7 369.2,426.0 377.6,422.7 381.0,418.5 387.7,415.9 394.4,415.1 400.0,414.2" fill="none" stroke="#8a8a8a" stroke-width="1" stroke-linejoin="round"/>
<polyline points="292.6,339.4 298.5,340.2 301.0,342.7 301.0,346.9" fill="none" stroke="#8a8a8a" stroke-width="1" stroke-linejoin="round"/>
<polyline points="301.0,331.8 301.0,342.7" fill="none" stroke="#8a8a8a" stroke-width="1" stroke-linejoin="round"/>
<polyline points="315.3,330.1 316.2,336.8 313.7,341.0 307.8,343.6 303.6,346.9" fill="none" stroke="#8a8a8a" stroke-width="1" stroke-linejoin="round"/>
<polyline points="360.8,320.0 367.5,325.0 374.2,330.1 379.3,335.1 380.1,341.9 382.7,348.6 386.9,355.3 394.4,356.7 400.0,356.2" fill="none" stroke="#8a8a8a" stroke-width="1" stroke-linejoin="round"/>
<polyline points="395.3,320.0 394.4,328.4 390.2,336.8 394.4,343.6 395.3,356.2" fill="none" stroke="#8a8a8a" stroke-width="1" stroke-linejoin="round"/>
<polyline points="193.6,162.6 193.2,168.5 194.4,175.2 199.5,179.5 206.2,181.1 209.6,183.7 207.9,188.7 208.7,195.4 210.4,200.5 206.2,203.9 201.1,206.4 197.8,210.6 198.6,215.6 195.2,219.0 192.7,224.1 191.9,230.8 190.2,233.3 192.7,237.5 195.2,242.6 198.6,247.6 202.8,252.7 205.3,257.0" fill="none" stroke="#8a8a8a" stroke-width="1" stroke-linejoin="round"/>
<polyline points="206.2,256.8 207.4,253.1 210.4,252.6 212.9,255.1 212.1,259.4 214.1,262.7 218.0,266.1 220.5,269.5 223.9,272.8 228.1,275.3 232.3,277.9 234.8,280.4 236.5,284.6 239.0,288.0 239.8,293.9 238.2,298.9 236.5,304.8 235.6,310.7 236.5,314.9 243.2,315.7" fill="none" stroke="#8a8a8a" stroke-width="1" stroke-linejoin="round"/>
<polyline points="316.1,227.9 323.7,226.2 333.8,226.2 340.5,227.9 348.9,230.4 356.5,232.9 360.7,233.3" fill="none" stroke="#8a8a8a" stroke-width="1" stroke-linejoin="round"/>
<polyline points="309.4,211.9 313.6,208.5 319.5,207.7 326.2,210.2 332.1,213.6 336.3,216.1 335.4,221.1 333.8,226.2" fill="none" stroke="#8a8a8a" stroke-width="1" stroke-linejoin="round"/>
<polyline points="336.3,216.1 338.0,210.2 336.3,203.5 338.0,198.4 343.9,202.6 348.1,200.1 353.1,197.6 357.3,195.9" fill="none" stroke="#8a8a8a" stroke-width="1" stroke-linejoin="round"/>
<polyline points="309.4,211.9 305.1,215.2 300.1,216.1 296.7,219.5 295.9,225.3 300.1,226.2 300.9,232.1 306.8,230.4 311.9,229.6 316.1,227.9" fill="none" stroke="#8a8a8a" stroke-width="1" stroke-linejoin="round"/>
<polyline points="410.0,257.3 404.4,261.5 399.4,264.1 394.3,264.9 387.6,269.1 380.9,272.5 374.2,274.2 367.4,276.7 361.5,279.2 359.8,284.2 360.4,291.0 359.0,297.0" fill="none" stroke="#8a8a8a" stroke-width="1" stroke-linejoin="round"/>
<polyline points="311.0,202.6 315.2,206.0 319.5,207.7" fill="none" stroke="#8a8a8a" stroke-width="1" stroke-linejoin="round"/>
<polyline points="454.1,397.1 456.6,401.7 460.8,400.8 461.6,410.1 464.2,416.8 470.9,423.6 477.6,428.6 484.3,433.7 491.1,436.2 500.0,439.6" fill="none" stroke="#8a8a8a" stroke-width="1" stroke-linejoin="round"/>
<polyline points="400.0,414.8 407.8,414.3 412.8,410.1 416.2,404.2 415.7,397.1" fill="none" stroke="#8a8a8a" stroke-width="1" stroke-linejoin="round"/>
<polyline points="266.2,130.0 267.9,138.4 270.4,145.1 273.8,151.0 277.1,156.9 279.6,161.1" fill="none" stroke="#8a8a8a" stroke-width="1" stroke-linejoin="round"/>
<polyline points="230.0,160.3 235.0,157.8 240.1,155.2 246.8,152.7 255.2,150.2 263.7,148.5 270.4,151.9 273.8,151.0" fill="none" stroke="#8a8a8a" stroke-width="1" stroke-linejoin="round"/>
<polyline points="279.6,199.0 280.5,204.1 279.6,210.8 276.3,214.2 274.6,219.2 272.1,224.2" fill="none" stroke="#8a8a8a" stroke-width="1" stroke-linejoin="round"/>
<polyline points="309.1,191.4 310.8,197.3 312.5,204.1 309.1,209.1 306.6,214.2 304.1,217.5 298.2,220.9 294.0,223.4" fill="none" stroke="#8a8a8a" stroke-width="1" stroke-linejoin="round"/>
<polyline points="312.5,204.1 317.5,207.4 324.2,208.3 331.0,209.9 335.2,212.5 336.9,217.5 335.2,224.2 334.3,227.6" fill="none" stroke="#8a8a8a" stroke-width="1" stroke-linejoin="round"/>
<polyline points="360.1,280.0 359.2,289.8 358.2,297.7 352.3,302.6 344.4,303.6 338.5,301.6 334.6,305.5 332.7,312.4 328.7,319.3 324.8,325.2 322.8,332.0 318.9,336.9" fill="none" stroke="#8a8a8a" stroke-width="1" stroke-linejoin="round"/>
<polyline points="358.2,297.7 356.2,307.5 357.2,315.3 360.7,320.1" fill="none" stroke="#8a8a8a" stroke-width="1" stroke-linejoin="round"/>
<polygon points="437.2,445.4 440.6,444.1 443.1,445.8 442.3,450.5 439.7,451.3 438.1,448.8" fill="#777"/>
<polygon points="418.7,429.5 422.9,426.9 425.4,428.6 424.6,432.8 420.4,434.5 418.4,432.8" fill="#777"/>
</g>
<g id="labels" text-anchor="middle">
<text class="pv" font-size="12.5" transform="translate(257.5,112.19999999999999) scale(0.579,1)">اردبیل</text>
<text class="pv" font-size="12.5" transform="translate(224.3,131.6) scale(0.669,1)">آذربایجان شرقی</text>
<text class="pv" font-size="12.5" transform="translate(197,157.6) scale(0.699,1)">آذربایجان غربی</text>
<text class="pv" font-size="12.5" transform="translate(286,155.6) scale(0.707,1)">گیلان</text>
<text class="pv" font-size="12.5" transform="translate(261,175.6) scale(0.662,1)">زنجان</text>
<text class="pv" font-size="12.5" transform="translate(230.8,194.4) scale(0.701,1)">کردستان</text>
<text class="pv" font-size="12.5" transform="translate(290.3,187.6) scale(0.592,1)">قزوین</text>
<text class="pv" font-size="12.5" transform="translate(316,183.2) scale(0.585,1)">البرز</text>
<text class="pv" font-size="12.5" transform="translate(346,184.29999999999998) scale(0.652,1)">مازندران</text>
<text class="pv" font-size="12.5" transform="translate(322.5,202.9) scale(0.645,1)">تهران</text>
<text class="pv" font-size="12.5" transform="translate(316.2,223.1) scale(0.556,1)">قم</text>
<text class="pv" font-size="12.5" transform="translate(285.1,230.6) scale(0.607,1)">مرکزی</text>
<text class="pv" font-size="12.5" transform="translate(256.5,219.2) scale(0.650,1)">همدان</text>
<text class="pv" font-size="12.5" transform="translate(222.4,226.29999999999998) scale(0.641,1)">کرمانشاه</text>
<text class="pv" font-size="12.5" transform="translate(253.5,255.4) scale(0.663,1)">لرستان</text>
<text class="pv" font-size="12.5" transform="translate(222.4,264.20000000000005) scale(0.651,1)">ایلام</text>
<text class="pv" font-size="12.5" transform="translate(335.9,266.6) scale(0.612,1)">اصفهان</text>
<text class="pv" font-size="12.5" transform="translate(266.6,303.8) scale(0.681,1)">خوزستان</text>
<text class="pv" font-size="12.5" transform="translate(331,296.20000000000005) scale(0.618,1)">چهار محال و بختیاری</text>
<text class="pv" font-size="12.5" transform="translate(312.5,329.6) scale(0.672,1)">کهگیلویه و بویراحمد</text>
<text class="pv" font-size="12.5" transform="translate(399,296.40000000000003) scale(0.794,1)">یزد</text>
<text class="pv" font-size="12.5" transform="translate(401.5,206.2) scale(0.680,1)">سمنان</text>
<text class="pv" font-size="12.5" transform="translate(406,154.6) scale(0.702,1)">گلستان</text>
<text class="pv" font-size="12.5" transform="translate(453,152.6) scale(0.626,1)">خراسان شمالی</text>
<text class="pv" font-size="12.5" transform="translate(493,193.6) scale(0.676,1)">خراسان رضوی</text>
<text class="pv" font-size="12.5" transform="translate(482.1,272.6) scale(0.679,1)">خراسان جنوبی</text>
<text class="pv" font-size="12.5" transform="translate(455.8,353.6) scale(0.668,1)">کرمان</text>
<text class="pv" font-size="12.5" transform="translate(370.5,377.6) scale(0.616,1)">فارس</text>
<text class="pv" font-size="12.5" transform="translate(322.5,382.1) scale(0.600,1)">بوشهر</text>
<text class="pv" font-size="12.5" transform="translate(439,413.6) scale(0.650,1)">هرمزگان</text>
<text class="pv" font-size="12.5" transform="translate(548,403.6) scale(0.645,1)">سیستان وبلوچستان</text>
<text class="sea" font-size="15" transform="translate(327,124.3) scale(0.637,1)">دریای خزر</text>
<text class="sea" font-size="15" transform="translate(318.8,429.6) scale(0.602,1)">خلیج فارس</text>
<text class="sea" font-size="15" transform="translate(500.6,478.8) scale(0.610,1)">دریای عمان</text>
</g>
<!-- frame -->
<rect x="34" y="49" width="662" height="457" fill="none" stroke="#111" stroke-width="2"/>
<g stroke="#111" stroke-width="1.8">
<line x1="134.8" y1="43" x2="134.8" y2="49"/><line x1="259" y1="43" x2="259" y2="49"/><line x1="382" y1="43" x2="382" y2="49"/><line x1="505.3" y1="43" x2="505.3" y2="49"/><line x1="629.5" y1="43" x2="629.5" y2="49"/>
<line x1="82" y1="506" x2="82" y2="513"/><line x1="232.3" y1="506" x2="232.3" y2="513"/><line x1="381.8" y1="506" x2="381.8" y2="513"/><line x1="531.6" y1="506" x2="531.6" y2="513"/><line x1="681.7" y1="506" x2="681.7" y2="513"/>
<line x1="27" y1="159.6" x2="34" y2="159.6"/><line x1="27" y1="322.5" x2="34" y2="322.5"/><line x1="27" y1="484.8" x2="34" y2="484.8"/>
<line x1="696" y1="164.5" x2="702.8" y2="164.5"/><line x1="696" y1="326" x2="702.8" y2="326"/><line x1="696" y1="488.9" x2="702.8" y2="488.9"/>
</g>
<g class="ax" text-anchor="middle">
<text x="134.6" y="39">42°0'E</text><text x="258.3" y="39">48°0'E</text><text x="381" y="39">54°0'E</text><text x="505" y="39">60°0'E</text><text x="628.8" y="39">66°0'E</text>
<text transform="translate(23.5,160.6) rotate(-90)">36°0'N</text><text transform="translate(23.5,323.5) rotate(-90)">30°0'N</text><text transform="translate(23.5,485.8) rotate(-90)">24°0'N</text>
<text transform="translate(716,165) rotate(-90)">36°0'N</text><text transform="translate(716,326.5) rotate(-90)">30°0'N</text><text transform="translate(716,489) rotate(-90)">24°0'N</text>
</g>
<!-- legend bar -->
<g stroke="#8c8c8c" stroke-width="1">
<rect x="27.6" y="521.5" width="94.4" height="15.5" fill="#A80000"/>
<rect x="122" y="521.5" width="94.4" height="15.5" fill="#FF0000"/>
<rect x="216.4" y="521.5" width="94.4" height="15.5" fill="#FFA60A"/>
<rect x="310.8" y="521.5" width="94.4" height="15.5" fill="#FFFFFF"/>
<rect x="405.2" y="521.5" width="94.4" height="15.5" fill="#CFFA6E"/>
<rect x="499.6" y="521.5" width="94.4" height="15.5" fill="#55FA14"/>
<rect x="594" y="521.5" width="95" height="15.5" fill="#38A80A"/>
</g>
<g class="lg" text-anchor="middle">
<text font-size="13.5" transform="translate(42,594) rotate(-45) scale(1.006,1)" y="4.3">خشکسالی شدید</text>
<text font-size="13.5" transform="translate(146.4,597) rotate(-45) scale(0.944,1)" y="4.3">خشکسالی متوسط</text>
<text font-size="13.5" transform="translate(236.6,596.5) rotate(-45) scale(0.938,1)" y="4.3">خشکسالی ضعیف</text>
<text font-size="13.5" transform="translate(358.7,581.8) rotate(-45) scale(0.815,1)" y="4.3">نرمال</text>
<text font-size="13.5" transform="translate(446.7,588.6) rotate(-45) scale(0.955,1)" y="4.3">ترسالی خفیف</text>
<text font-size="13.5" transform="translate(536,587) rotate(-45) scale(0.943,1)" y="4.3">ترسالی متوسط</text>
<text font-size="13.5" transform="translate(632,588.2) rotate(-45) scale(1.019,1)" y="4.3">ترسالی شدید</text>
</g>
<!-- logo -->
<g fill="none" stroke="#332f75" stroke-width="4.2">
<path d="M631.6,68 H633.2 A37,37 0 0 1 633.2,142 A18.5,18.5 0 0 1 629,105.5"/>
<path d="M631.6,76.8 H633.2 A28.2,28.2 0 0 1 633.2,133.2 A8.8,8.8 0 0 1 625,120 L625,117"/>
<path d="M631.6,85.3 H633.2 A19.7,19.7 0 0 1 637,124.3"/>
<path d="M631.6,94.9 H633.2 A10,10 0 0 1 642.6,108.5"/>
</g>
<g fill="#332f75"><path d="M634,103.6 L634.6,112.6 L642.8,113.6 L634.4,115 L632.6,122 L632,115 L623.4,114.2 L632.4,112.8 Z"/></g>
<g class="logo" text-anchor="end">
<text font-size="5" x="630.5" y="69.3" fill="#4a4a85">سازمان هواشناسی کشور</text>
<text font-family="Liberation Sans" font-weight="bold" font-size="6.5" transform="translate(629.8,78.8) scale(1.06,1)" fill="#332f75">I.R.OF IRAN</text>
<text font-family="Liberation Sans" font-weight="bold" font-size="6.5" transform="translate(629.8,87.8) scale(1.005,1)" fill="#332f75">METEOROLOGICAL</text>
<text font-family="Liberation Sans" font-weight="bold" font-size="6.5" transform="translate(629.8,97.2) scale(1.07,1)" fill="#332f75">ORGANIZATION</text>
</g>
<g class="logo" text-anchor="middle" fill="#6b6b98">
<text font-size="8" transform="translate(620.8,155.8) scale(0.953,1)" fill="#62628f" stroke="#62628f" stroke-width="0.2">مرکز ملی اقلیم و</text>
<text font-size="8" transform="translate(620.3,167.1) scale(1.019,1)" fill="#62628f" stroke="#62628f" stroke-width="0.2">مدیریت بحران خشکسالی</text>
</g>
<!-- north arrow -->
<polygon points="650.6,460.1 660.3,488.6 650.6,482.4 641.1,488.6" fill="#000"/>
<text x="651" y="455.6" text-anchor="middle" font-family="Liberation Serif, serif" font-size="10.5" fill="#333">N</text>
</svg>
</body>
</html>
